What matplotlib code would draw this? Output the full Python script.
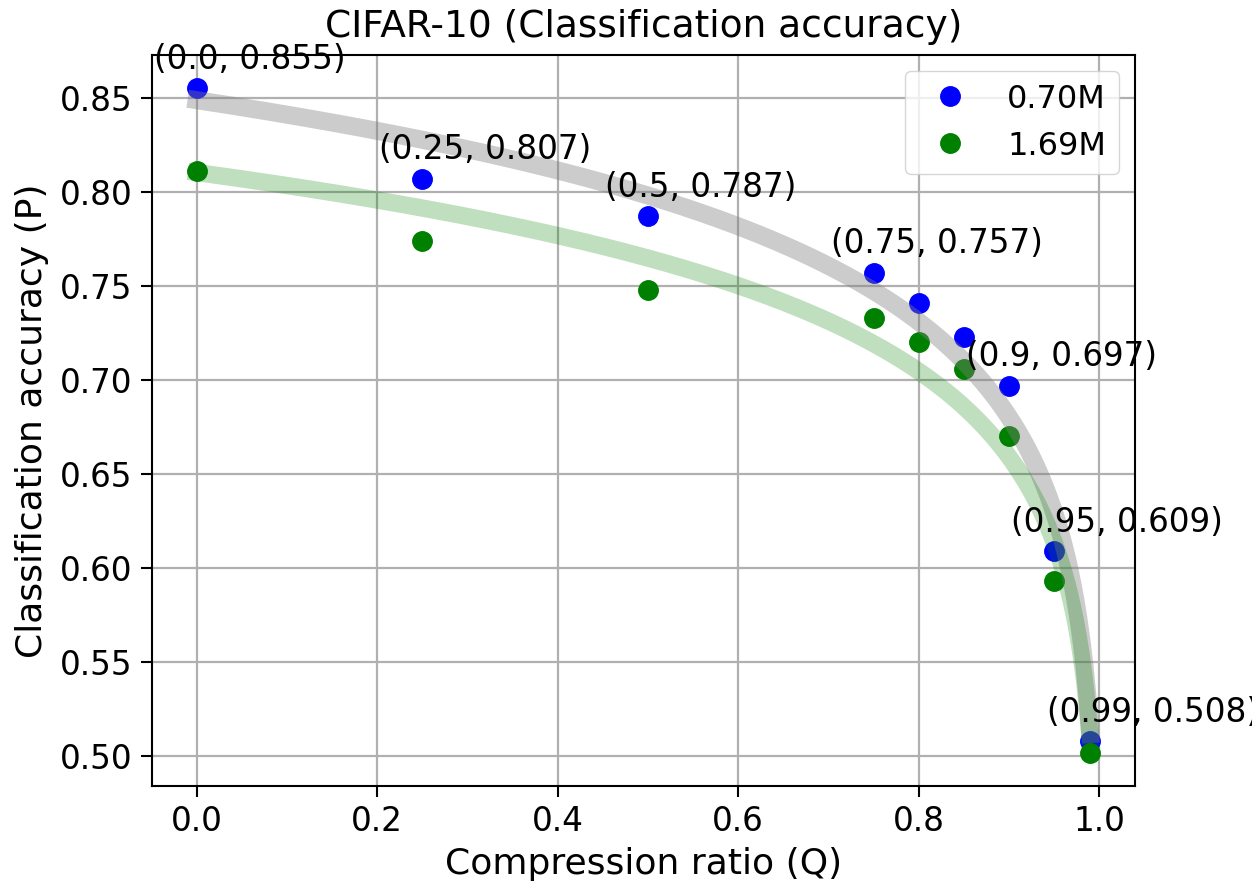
import numpy as np
import matplotlib.pyplot as plt

# compression ratio (Q)
ratio = [0.0, 0.25, 0.5, 0.75, 0.8, 0.85, 0.9, 0.95, 0.99]
# accuracy (P) for each model size
acc_070 = [0.855, 0.807, 0.787, 0.757, 0.741, 0.723, 0.697, 0.609, 0.508]
acc_169 = [0.811, 0.774, 0.748, 0.733, 0.720, 0.706, 0.670, 0.593, 0.502]
annotated = [0.0, 0.25, 0.5, 0.75, 0.9, 0.95, 0.99]


def fit_curve(x, y, deg=1):
  # least squares fit in log(1 - Q)
  x = np.asarray(x)
  coef = np.polyfit(np.log(1 - x), y, deg)
  xs = np.linspace(x.min(), x.max(), 300)
  return xs, np.polyval(coef, np.log(1 - xs))


def main():
  fig = plt.figure(figsize=(12.52, 8.83), dpi=100)
  ax = fig.add_axes([0.1214, 0.1099, 0.7851, 0.8279])

  ax.plot(ratio, acc_070, 'o', color='blue', markersize=14, label='0.70M', zorder=2)
  ax.plot(ratio, acc_169, 'o', color='green', markersize=14, label='1.69M', zorder=2)

  xs, ys = fit_curve(ratio, acc_070)
  ax.plot(xs, ys, color='gray', alpha=0.4, lw=13, zorder=3)
  xs, ys = fit_curve(ratio, acc_169)
  ax.plot(xs, ys, color='green', alpha=0.25, lw=12.5, zorder=3)

  for q, p in zip(ratio, acc_070):
    if q in annotated:
      ax.annotate("(%s, %s)" % (q, p), (q, p), xytext=(-31, 14),
                  textcoords='offset points', ha='left', va='baseline',
                  fontsize=23.5, annotation_clip=False, zorder=4)

  ax.set_title('CIFAR-10 (Classification accuracy)', fontsize=27, pad=13)
  ax.set_xlabel('Compression ratio (Q)', fontsize=26, labelpad=6)
  ax.set_ylabel('Classification accuracy (P)', fontsize=26, labelpad=8)
  ax.tick_params(labelsize=23.5, length=8, width=1.5, pad=6)
  for s in ax.spines.values():
    s.set_linewidth(1.5)
  ax.grid(True, color='#b0b0b0', lw=1.6)
  ax.set_axisbelow(True)
  ax.legend(loc='upper right', fontsize=23)

  fig.savefig('out.png', dpi=100)

if __name__ == '__main__': main()
